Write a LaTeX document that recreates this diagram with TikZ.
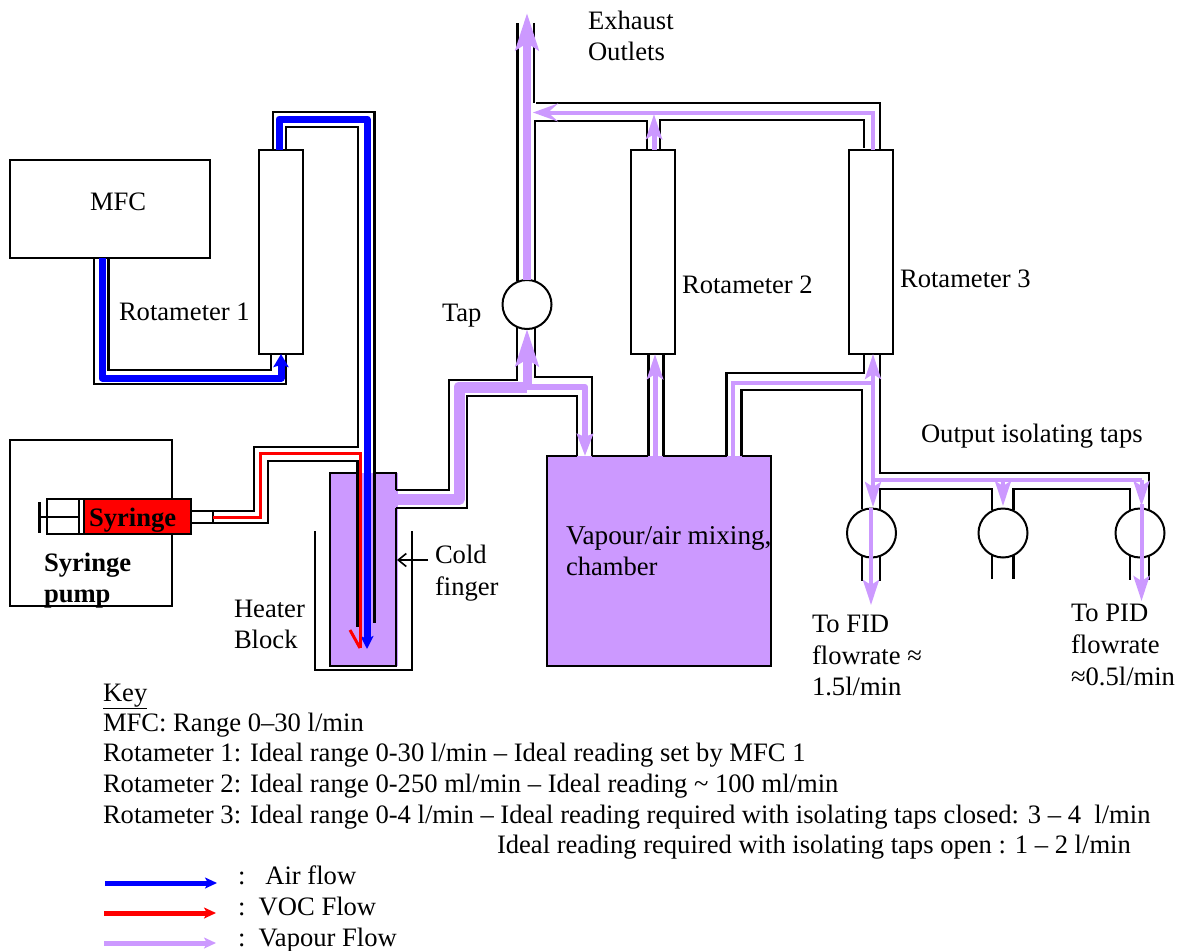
\documentclass[tikz,border=0pt]{standalone}
\usepackage{fontspec}
\setmainfont{Liberation Serif}
\usetikzlibrary{arrows.meta}
\definecolor{vap}{HTML}{CC99FF}
\tikzset{
  x=1pt,y=-1pt,
  txt/.style={anchor=base west,inner sep=0pt,outer sep=0pt,font=\fontsize{26.6}{31}\selectfont,align=left},
  bold/.style={txt,font=\fontsize{26.6}{31}\selectfont\bfseries},
  box/.style={draw=black,line width=2pt,fill=white,inner sep=0pt,outer sep=0pt},
  tapc/.style={circle,draw=black,line width=2pt,fill=white,inner sep=0pt,outer sep=0pt,minimum size=49pt},
  pipe/.style={draw=black,line width=2.2pt,line join=miter},
  airl/.style={draw=blue,line width=7pt,line join=round},
  vocl/.style={draw=red,line width=3pt,line join=miter},
  vapt/.style={draw=vap,line width=4pt,line join=miter},
  vapm/.style={draw=vap,line width=5pt,line join=round},
  vapk/.style={draw=vap,line width=11pt,line join=round},
  tipbig/.style={-{Stealth[length=37pt,width=23pt,inset=7pt]}},
  tipmed/.style={-{Stealth[length=25pt,width=16pt,inset=5pt]}},
  tipopen/.style={-{Stealth[length=25pt,width=18pt,inset=10pt]}},
  tipleg/.style={-{Stealth[length=12pt,width=11pt,inset=3pt]}},
}
\begin{document}
\begin{tikzpicture}
\useasboundingbox (0,0) rectangle (1180,950);
% boxes
\node[box,minimum width=200pt,minimum height=98pt] (mfc) at (110,209) {};
\node[box,minimum width=44pt,minimum height=204pt] (rot1) at (281,252) {};
\node[box,minimum width=44pt,minimum height=204pt] (rot2) at (653,252) {};
\node[box,minimum width=44pt,minimum height=204pt] (rot3) at (871,252) {};
\node[box,minimum width=162pt,minimum height=166pt] (pump) at (91,523) {};
% cold finger and chamber fills
\node[fill=vap,inner sep=0pt,outer sep=0pt,minimum width=68pt,minimum height=193pt] (finger) at (364,569.5) {};
\node[fill=vap,inner sep=0pt,outer sep=0pt,minimum width=224pt,minimum height=210pt] (chamber) at (659,561) {};
% named pipe ends
\coordinate (fA) at (357,473); \coordinate (fB) at (375,473);
\coordinate (fC) at (396,490); \coordinate (fD) at (396,508);
\coordinate (cA) at (577,456); \coordinate (cB) at (592,456);
\coordinate (cC) at (648,456); \coordinate (cD) at (663,456);
\coordinate (cE) at (726.5,456); \coordinate (cF) at (741.5,456);
% finger outline
\draw[pipe] (fA) -| (330,666) -| (fD);
\draw[pipe] (fC) |- (fB);
% chamber outline
\draw[pipe] (cA) -| (chamber.north west) |- (chamber.south east) |- (cF);
\draw[pipe] (cB) -- (cC);
\draw[pipe] (cD) -- (cE);
% heater block
\coordinate (hA) at (315,531); \coordinate (hB) at (412,531);
\draw[pipe] (hA) |- (412,670) -- (hB);
\coordinate (cfl) at (428,560); \coordinate (cfr) at (397,560);
\draw[pipe,line width=1.6pt,-{Straight Barb[length=8pt,width=13pt]}] (cfl) -- (cfr);
% syringe
\node[box,fill=red,minimum width=107pt,minimum height=35pt] (syr) at (137.5,516.5) {};
\node[box,minimum width=37pt,minimum height=35pt] (plg) at (65.5,516.5) {};
\node[draw=none,fill=white,inner sep=0pt,outer sep=0pt,minimum width=4pt,minimum height=33pt] (gap) at (81,516.5) {};
\draw[pipe,line width=1.8pt] (79,499) -- (79,534);
\coordinate (rodL) at (39,517); \coordinate (rodR) at (79,517);
\draw[pipe] (rodL) -- (rodR);
\coordinate (barT) at (39,502); \coordinate (barB) at (39,533);
\draw[pipe,line width=3pt] (barT) -- (barB);
\coordinate (syrT) at (191,511); \coordinate (syrB) at (191,523);
\draw[pipe] (syrT) -- ++(22,0) -- ++(0,12);
% MFC to rotameter 1
\coordinate (m1) at (94,258); \coordinate (m2) at (108.5,258);
\coordinate (r1a) at (286,354); \coordinate (r1b) at (271,354);
\draw[pipe] (m1) |- (r1a |- 0,384) -- (r1a);
\draw[pipe] (m2) |- (r1b |- 0,370) -- (r1b);
% rotameter 1 to finger (air)
\coordinate (r1c) at (273,150); \coordinate (r1d) at (286,150);
\coordinate (aEnd) at (374.5,623); \coordinate (vEnd) at (357.5,627);
\draw[pipe] (r1c) |- (374.5,112) -- (aEnd);
\draw[pipe] (r1d) |- (358,127) -- (358,447) -| (254,511) -- (syrT);
\draw[pipe] (syrB) -| (268,461) -| (vEnd);
% vapour pipes
\coordinate (t0n) at (517,281); \coordinate (t0m) at (535,281);
\coordinate (t0s) at (517,327); \coordinate (t0t) at (535,327);
\draw[pipe] (fC) -| (449,380) -| (t0s);
\draw[pipe] (fD) -| (467,396) -| (cA);
\draw[pipe] (t0t) |- (592,377) -- (cB);
\coordinate (exL) at (517,23); \coordinate (exR) at (534,23);
\draw[pipe,line width=3pt] (t0n) -- (exL);
\draw[pipe] (exR) -- (534,103);
\coordinate (r2t1) at (647,150); \coordinate (r2t2) at (660,150);
\coordinate (r3t1) at (864,148); \coordinate (r3t2) at (880,150);
\coordinate (jn) at (536,103);
\draw[pipe] (jn) -| (r3t2);
\draw[pipe] (t0m) |- (r2t1 |- 0,121) -- (r2t1);
\draw[pipe] (r2t2) |- (r3t1 |- 0,120) -- (r3t1);
\coordinate (r2b1) at (648,353); \coordinate (r2b2) at (663,353);
\draw[pipe,line width=3pt] (r2b1) -- (cC);
\draw[pipe,line width=3pt] (r2b2) -- (cD);
% rotameter 3 base and taps
\coordinate (r3b1) at (864,354); \coordinate (r3b2) at (880,354);
\coordinate (a1) at (862,509); \coordinate (a2) at (880,509);
\coordinate (b1) at (992,510); \coordinate (b2) at (1013.5,510);
\coordinate (c1) at (1130,510); \coordinate (c2) at (1149,510);
\draw[pipe] (cE) |- (r3b1 |- 0,373) -- (r3b1);
\draw[pipe] (cF) |- (a1 |- 0,390) -- (a1);
\draw[pipe] (r3b2) |- (c2 |- 0,473) -- (c2);
\draw[pipe] (a2) |- (b1 |- 0,489) -- (b1);
\draw[pipe] (b2) |- (c1 |- 0,489) -- (c1);
% taps
\node[tapc] (tap0) at (527,304.5) {};
\node[tapc] (tap1) at (871.5,533) {};
\node[tapc] (tap2) at (1003,533) {};
\node[tapc] (tap3) at (1140,533) {};
\coordinate (a3) at (862,581); \coordinate (a4) at (880,581);
\coordinate (b3) at (992,579); \coordinate (b4) at (1013.5,579);
\coordinate (c3) at (1130,580); \coordinate (c4) at (1149,580);
\draw[pipe] (a1 |- tap1.south) ++(0,-3) -- (a3);
\draw[pipe] (a2 |- tap1.south) ++(0,-3) -- (a4);
\draw[pipe] (b1 |- tap2.south) ++(0,-3) -- (b3);
\draw[pipe] (b2 |- tap2.south) ++(0,-3) -- (b4);
\draw[pipe] (c1 |- tap3.south) ++(0,-3) -- (c3);
\draw[pipe] (c2 |- tap3.south) ++(0,-3) -- (c4);
% air flow
\coordinate (airA) at (102,258); \coordinate (airB) at (281,354);
\draw[airl,-{Stealth[length=13pt,width=15pt,inset=2pt]}] (airA) |- (281,378) -- (airB);
\coordinate (airC) at (279,150); \coordinate (airD) at (367,649);
\draw[airl,-{Stealth[length=13pt,width=13pt,inset=3pt]}] (airC) |- (367,119) -- (airD);
% VOC flow
\coordinate (vocA) at (213,517); \coordinate (vocB) at (360,648);
\draw[vocl] (vocA) -| (260,453) -| (vocB);
\coordinate (vocC) at (350,630);
\draw[vocl] (vocC) -- (vocB);
% vapour flow
\coordinate (vA) at (391,499.5); \coordinate (vB) at (527,387);
\draw[vapk] (vA) -| (459,387) -- (vB);
\draw[vapm,line width=9pt,tipbig] (vB) -- (tap0.south);
\draw[vapm,line width=8pt,tipbig] (tap0.north) -- (527,13);
\coordinate (vC) at (585,456);
\draw[vapm,line width=6pt,-{Stealth[length=22pt,width=16pt,inset=3pt]}] (vB) -| (vC);
\coordinate (vD) at (655,456);
\draw[vapm,tipmed] (vD) -- (rot2.south -| vD);
\coordinate (vE) at (654,150); \coordinate (vEt) at (654,114);
\draw[vapm,tipmed] (vE) -- (vEt);
\coordinate (vF) at (873,150); \coordinate (vFt) at (533,112.5);
\draw[vapt,tipopen] (vF) |- (vFt);
\coordinate (vG) at (733,456); \coordinate (vH) at (873,383);
\draw[vapt] (vG) |- (vH);
\coordinate (vI) at (873,480); \coordinate (vJ) at (873,354);
\draw[vapt,tipmed] (vI) -- (vJ);
\coordinate (vK) at (1141.5,480);
\draw[vapt] (vI) -- (vK);
\draw[vapt,tipmed] (vI) -- (873,507);
\coordinate (vL) at (1003,480); \coordinate (vLt) at (1003,506);
\draw[vapt,tipmed] (vL) -- (vLt);
\draw[vapt,tipmed] (vK) -- (1141.5,506);
\coordinate (vM) at (871,508); \coordinate (vMt) at (871,605);
\draw[vapt,tipmed] (vM) -- (vMt);
\coordinate (vN) at (1141.5,504); \coordinate (vNt) at (1141.5,601);
\draw[vapt,tipmed] (vN) -- (vNt);
% labels
\node[txt] (lMFC) at (90,210) {MFC};
\node[txt] (lR1) at (119,320) {Rotameter 1};
\node[bold] (lSyr) at (89,526) {Syringe};
\node[bold] (lP1) at (44,571) {Syringe};
\node[bold] (lP2) at (44,602) {pump};
\node[txt] (lH1) at (234,617) {Heater};
\node[txt] (lH2) at (234,648) {Block};
\node[txt] (lC1) at (435,563) {Cold};
\node[txt] (lC2) at (435,595) {finger};
\node[txt] (lT) at (442,321) {Tap};
\node[txt] (lE1) at (588,30) {Exhaust};
\node[txt] (lE2) at (588,61) {Outlets};
\node[txt] (lR2) at (682,293) {Rotameter 2};
\node[txt] (lR3) at (900,287) {Rotameter 3};
\node[txt] (lO) at (921,442) {Output isolating taps};
\node[txt,font=\fontsize{27.2}{31}\selectfont] (lV1) at (566,544) {Vapour/air mixing,};
\node[txt] (lV2) at (566,575) {chamber};
\node[txt] (lF1) at (812,632) {To FID};
\node[txt] (lF2) at (812,664) {flowrate ≈};
\node[txt] (lF3) at (812,695) {1.5l/min};
\node[txt] (lD1) at (1071,621) {To PID};
\node[txt] (lD2) at (1071,653) {flowrate};
\node[txt] (lD3) at (1071,685) {≈0.5l/min};
\node[txt] (k0) at (103,701) {\underline{Key}};
\node[txt] (k1) at (103,731) {MFC: Range 0–30 l/min};
\node[txt] (k2) at (103,761) {Rotameter 1: Ideal range 0-30 l/min – Ideal reading set by MFC 1};
\node[txt] (k3) at (103,792) {Rotameter 2: Ideal range 0-250 ml/min – Ideal reading \textasciitilde{} 100 ml/min};
\node[txt] (k4) at (103,823) {Rotameter 3: Ideal range 0-4 l/min – Ideal reading required with isolating taps closed: 3 – 4\ \ l/min};
\node[txt] (k5) at (497,853) {Ideal reading required with isolating taps open : 1 – 2 l/min};
% legend
\coordinate (la1) at (105,883); \coordinate (la2) at (217,883);
\coordinate (lb1) at (104,913); \coordinate (lb2) at (216,913);
\coordinate (lc1) at (104,943); \coordinate (lc2) at (216,943);
\draw[draw=blue,line width=5pt,tipleg] (la1) -- (la2);
\draw[draw=red,line width=5pt,tipleg] (lb1) -- (lb2);
\draw[draw=vap,line width=5pt,tipleg] (lc1) -- (lc2);
\node[txt] (l1) at (238,884) {:\ \ \ Air flow};
\node[txt] (l2) at (238,915) {:\ \ VOC Flow};
\node[txt] (l3) at (238,946) {:\ \ Vapour Flow};
\end{tikzpicture}
\end{document}
